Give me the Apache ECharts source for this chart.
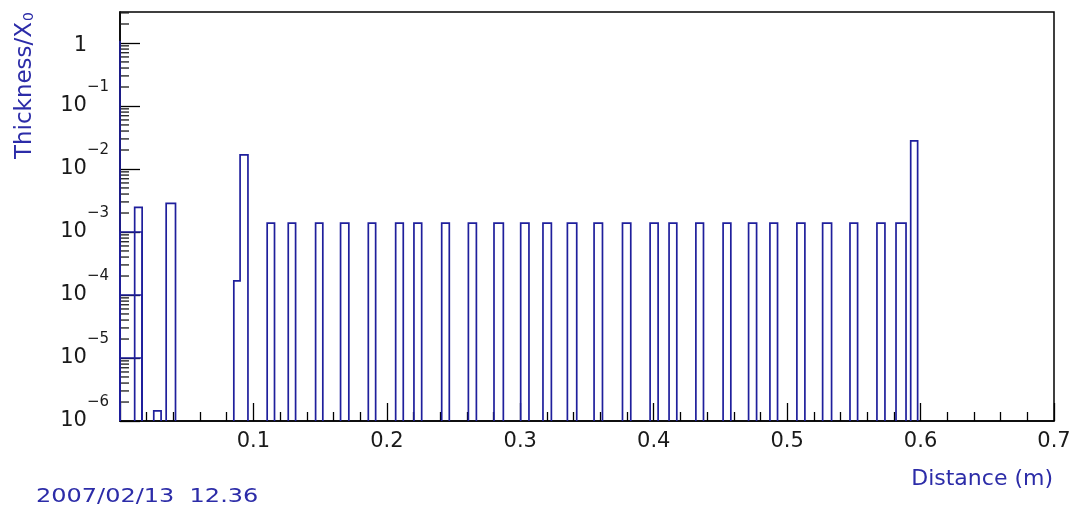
<!DOCTYPE html>
<html>
<head>
<meta charset="utf-8">
<script src="https://cdn.jsdelivr.net/npm/echarts@6/dist/echarts.min.js"></script>
<style>
  html, body { margin: 0; padding: 0; background: #ffffff; }
  #chart { width: 1076px; height: 516px; }
</style>
</head>
<body>
<div id="chart"></div>
<script>
// Material scan along the track: thickness in radiation lengths per volume.
// Each volume is a bin [binLow, binHigh) in metres with its thickness / X0.
const binLow = [0.0110, 0.0253, 0.0346, 0.0853, 0.0900, 0.1103, 0.1261, 0.1466,
  0.1653, 0.1861, 0.2066, 0.2203, 0.2411, 0.2611, 0.2803, 0.3003, 0.3170, 0.3353,
  0.3553, 0.3766, 0.3973, 0.4115, 0.4316, 0.4520, 0.4711, 0.4871, 0.5073, 0.5266,
  0.5471, 0.5673, 0.5816, 0.5926];
const binHigh = [0.0166, 0.0308, 0.0416, 0.0900, 0.0959, 0.1158, 0.1316, 0.1520,
  0.1715, 0.1916, 0.2123, 0.2261, 0.2468, 0.2671, 0.2873, 0.3065, 0.3233, 0.3423,
  0.3616, 0.3828, 0.4033, 0.4173, 0.4373, 0.4578, 0.4771, 0.4928, 0.5133, 0.5333,
  0.5528, 0.5733, 0.5891, 0.5978];
const binValue = [2.45e-3, 1.45e-6, 2.85e-3, 1.68e-4, 1.68e-2, 1.38e-3, 1.38e-3, 1.38e-3,
  1.38e-3, 1.38e-3, 1.38e-3, 1.38e-3, 1.38e-3, 1.38e-3, 1.38e-3, 1.38e-3, 1.38e-3, 1.38e-3,
  1.38e-3, 1.38e-3, 1.38e-3, 1.38e-3, 1.38e-3, 1.38e-3, 1.38e-3, 1.38e-3, 1.38e-3, 1.38e-3,
  1.38e-3, 1.38e-3, 1.38e-3, 2.8e-2];

// Contributions that start at the scan origin
const edgeLow = [0, 0, 0, 0];
const edgeHigh = [0, 0.0166, 0.0166, 0.0166];
const edgeValue = [1.08, 1e-3, 1e-4, 1e-5];

// Axis ranges and tick layout
const xRange = [0, 0.7];
const xStep = 0.1;
const yRange = [1e-6, 3.1];
const yDecades = [-6, -5, -4, -3, -2, -1, 0];
const yMinorFactors = [2, 3, 4, 5, 6, 7, 8, 9];

const dateText = '2007/02/13  12.36';
const xTitle = 'Distance (m)';
const yTitle = 'Thickness/X';
const yTitleSub = '0';

const HIST = '#1f1f9c';
const TITLE = '#2c2ca8';
const INK = '#1a1a1a';
const FONT = 'DejaVu Sans';

// Group touching bins into one step outline each
const runs = [];
for (let i = 0; i < binLow.length; i++) {
  const last = runs[runs.length - 1];
  if (last && Math.abs(binHigh[last.end] - binLow[i]) < 1e-9) {
    last.end = i;
  } else {
    runs.push({ start: i, end: i });
  }
}
const runData = runs.map(r => {
  let top = 0;
  for (let i = r.start; i <= r.end; i++) top = Math.max(top, binValue[i]);
  return [binLow[r.start], binHigh[r.end], top, r.start, r.end];
});

const edgeData = edgeLow.map((lo, i) => [lo, edgeHigh[i], edgeValue[i]]);

const minorTickData = [];
yDecades.forEach(d => {
  yMinorFactors.forEach(k => {
    const v = k * Math.pow(10, d);
    if (v > yRange[0] && v < yRange[1]) minorTickData.push([xRange[0], v]);
  });
});

function renderRun(params, api) {
  const first = api.value(3), last = api.value(4);
  const pts = [api.coord([binLow[first], yRange[0]])];
  for (let i = first; i <= last; i++) {
    pts.push(api.coord([binLow[i], binValue[i]]));
    pts.push(api.coord([binHigh[i], binValue[i]]));
  }
  pts.push(api.coord([binHigh[last], yRange[0]]));
  return {
    type: 'polyline',
    shape: { points: pts },
    style: { stroke: HIST, fill: null, lineWidth: 1.7 }
  };
}

function renderEdge(params, api) {
  const lo = api.value(0), hi = api.value(1), v = api.value(2);
  const pts = [
    api.coord([lo, yRange[0]]),
    api.coord([lo, v]),
    api.coord([hi, v]),
    api.coord([hi, yRange[0]])
  ];
  return {
    type: 'polyline',
    shape: { points: pts },
    style: { stroke: HIST, fill: null, lineWidth: 1.7 }
  };
}

function renderMinorTick(params, api) {
  const p = api.coord([api.value(0), api.value(1)]);
  return {
    type: 'line',
    shape: { x1: p[0], y1: p[1], x2: p[0] + 9, y2: p[1] },
    style: { stroke: INK, lineWidth: 1.3 }
  };
}

function yLabel(v) {
  const e = Math.log10(v);
  const r = Math.round(e);
  if (Math.abs(e - r) > 1e-6) return '';
  if (r === 0) return '{one|1}';
  return '{b|10}{e|' + (r < 0 ? '\u2212' : '') + Math.abs(r) + '}';
}

const chart = echarts.init(document.getElementById('chart'), null, { renderer: 'canvas' });
chart.setOption({
  animation: false,
  backgroundColor: '#ffffff',
  grid: {
    left: 120, right: 22, top: 12, bottom: 95,
    show: true, borderColor: '#000', borderWidth: 1.5, backgroundColor: 'transparent'
  },
  xAxis: {
    type: 'value',
    min: xRange[0], max: xRange[1], interval: xStep,
    axisLine: { lineStyle: { color: '#000', width: 1.5 } },
    axisTick: { inside: true, length: 18, lineStyle: { color: '#000', width: 1.3 } },
    minorTick: { show: true, splitNumber: 5, length: 9, lineStyle: { color: '#000', width: 1.3 } },
    axisLabel: {
      margin: 10, fontSize: 21, fontFamily: FONT, color: INK,
      showMinLabel: false, showMaxLabel: true
    },
    splitLine: { show: false }
  },
  yAxis: {
    type: 'log', logBase: 10,
    min: yRange[0], max: yRange[1], splitNumber: 7,
    axisLine: { lineStyle: { color: '#000', width: 1.5 } },
    axisTick: { inside: true, length: 20, lineStyle: { color: '#000', width: 1.3 } },
    axisLabel: {
      margin: 11, showMaxLabel: false, showMinLabel: true,
      formatter: yLabel,
      rich: {
        b: { fontSize: 21, fontFamily: FONT, color: INK, verticalAlign: 'bottom', padding: [0, 0, 16, 0] },
        e: { fontSize: 15, fontFamily: FONT, color: INK, verticalAlign: 'top', padding: [0, 0, 38, 0] },
        one: { fontSize: 21, fontFamily: FONT, color: INK, padding: [19, 22, 13, 0] }
      }
    },
    splitLine: { show: false }
  },
  graphic: [
    {
      type: 'text', x: 25, y: 12, rotation: Math.PI / 2,
      style: {
        text: '{m|' + yTitle + '}{s|' + yTitleSub + '}',
        align: 'right', verticalAlign: 'middle',
        rich: {
          m: { fontSize: 23, fontFamily: FONT, fill: TITLE, color: TITLE, verticalAlign: 'top' },
          s: { fontSize: 14, fontFamily: FONT, fill: TITLE, color: TITLE, verticalAlign: 'top', padding: [9, 0, 0, 1] }
        }
      }
    },
    {
      type: 'text', x: 1053, y: 479,
      style: { text: xTitle, fontSize: 22, fontFamily: FONT, fill: TITLE, align: 'right', verticalAlign: 'middle' }
    },
    {
      type: 'text', x: 36, y: 497, scaleX: 1.2,
      style: { text: dateText, fontSize: 20, fontFamily: FONT, fill: TITLE, align: 'left', verticalAlign: 'middle' }
    }
  ],
  series: [
    {
      type: 'custom', silent: true, renderItem: renderMinorTick,
      encode: { x: 0, y: 1 }, data: minorTickData, z: 3
    },
    {
      type: 'custom', silent: true, renderItem: renderEdge,
      encode: { x: [0, 1], y: 2 }, data: edgeData, z: 4
    },
    {
      type: 'custom', silent: true, renderItem: renderRun,
      encode: { x: [0, 1], y: 2 }, data: runData, z: 4
    }
  ]
});
</script>
</body>
</html>
